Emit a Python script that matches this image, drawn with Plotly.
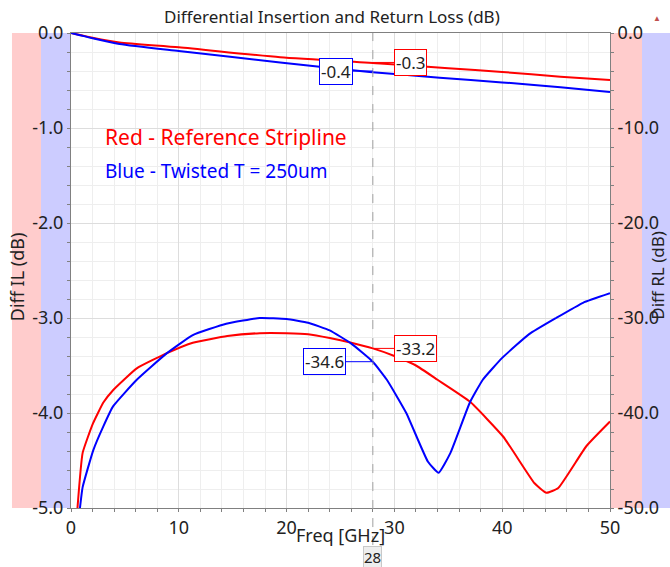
import plotly.graph_objects as go

# ---- data ----
il_red_f = [0, 2, 4.5, 10, 19.4, 28.7, 35, 40, 45.4, 50]
il_red = [0, -0.05, -0.10, -0.15, -0.256, -0.32, -0.37, -0.41, -0.46, -0.495]
il_blue_f = [0, 2, 4.5, 10, 19.4, 27.7, 34.2, 40, 45.4, 50]
il_blue = [0, -0.055, -0.115, -0.19, -0.31, -0.41, -0.47, -0.52, -0.57, -0.62]

rl_red_f = [0.6, 1.08, 2.04, 3.0, 3.9, 6.1, 8.9, 11.3, 14.5, 17.5, 20, 22, 24, 26, 28,
            30, 32, 34, 37, 40.1, 43, 44.1, 45.2, 47.8, 50]
rl_red = [-50, -44.2, -41.1, -38.9, -37.6, -35.3, -33.7, -32.6, -31.9, -31.6, -31.6, -31.7,
          -32.1, -32.6, -33.2, -34.0, -35.0, -36.5, -38.8, -42.5, -47.4, -48.4, -47.9, -43.5, -40.9]
rl_blue_f = [0.83, 1.08, 2.07, 3.0, 3.9, 6.1, 8.9, 11.3, 14.4, 17.5, 20, 22, 24, 26, 28,
             29.3, 31.1, 33.1, 34.1, 35.2, 37, 38.2, 40, 42.5, 45, 47.5, 50]
rl_blue = [-50, -47.8, -43.9, -41.4, -39.3, -36.5, -33.7, -31.8, -30.6, -30.0, -30.1, -30.5,
           -31.3, -32.7, -34.6, -36.5, -40.0, -45.1, -46.3, -44.2, -38.9, -36.5, -34.2, -31.7,
           -30.0, -28.4, -27.4]

marker_f = 28
marker_labels = {"il_red": "-0.3", "il_blue": "-0.4", "rl_red": "-33.2", "rl_blue": "-34.6"}
marker_vals = {"il_red": -0.31, "il_blue": -0.40, "rl_red": -33.2, "rl_blue": -34.6}

x_ticks = [0, 10, 20, 30, 40, 50]
il_ticks = [0, -1, -2, -3, -4, -5]
il_tick_text = ["0.0", "-1.0", "-2.0", "-3.0", "-4.0", "-5.0"]
rl_ticks = [0, -10, -20, -30, -40, -50]
rl_tick_text = ["0.0", "-10.0", "-20.0", "-30.0", "-40.0", "-50.0"]

FONT = "Noto Sans"
RED = "#ff0000"
BLUE = "#0000ff"
TXT = "#222222"

fig = go.Figure()
fig.add_trace(go.Scatter(x=il_red_f, y=il_red, mode="lines",
                         line=dict(color=RED, width=2, shape="spline", smoothing=0.6), yaxis="y"))
fig.add_trace(go.Scatter(x=il_blue_f, y=il_blue, mode="lines",
                         line=dict(color=BLUE, width=2, shape="spline", smoothing=0.6), yaxis="y"))
fig.add_trace(go.Scatter(x=rl_red_f, y=rl_red, mode="lines",
                         line=dict(color=RED, width=2, shape="spline", smoothing=0.4), yaxis="y2"))
fig.add_trace(go.Scatter(x=rl_blue_f, y=rl_blue, mode="lines",
                         line=dict(color=BLUE, width=2, shape="spline", smoothing=0.4), yaxis="y2"))

shapes = [
    dict(type="rect", xref="paper", yref="paper", x0=-0.1095, x1=-0.0557, y0=0, y1=1,
         fillcolor="#ffcccc", line=dict(width=0), layer="below"),
    dict(type="rect", xref="paper", yref="paper", x0=-0.0557, x1=0, y0=0, y1=1,
         fillcolor="#ccccff", line=dict(width=0), layer="below"),
    dict(type="rect", xref="paper", yref="paper", x0=1, x1=1.0594, y0=0, y1=1,
         fillcolor="#ffcccc", line=dict(width=0), layer="below"),
    dict(type="rect", xref="paper", yref="paper", x0=1.0594, x1=1.12, y0=0, y1=1,
         fillcolor="#ccccff", line=dict(width=0), layer="below"),
    dict(type="line", xref="x", yref="paper", x0=marker_f, x1=marker_f, y0=-0.078, y1=1,
         line=dict(color="#a0a0a0", width=1, dash="dash")),
]

ann = [
    dict(text="Differential Insertion and Return Loss (dB)", xref="paper", yref="paper",
         x=0.484, y=1.0337, xanchor="center", yanchor="middle", showarrow=False,
         font=dict(size=17, color=TXT, family=FONT)),
    dict(text="▲", xref="paper", yref="paper", x=1.087, y=1.033, xanchor="center",
         yanchor="middle", showarrow=False, font=dict(size=8, color="#c0504d", family=FONT)),
    dict(text="Diff IL (dB)", xref="paper", yref="paper", x=-0.1, y=0.486, textangle=-90,
         xanchor="center", yanchor="middle",
         showarrow=False, font=dict(size=18, color=TXT, family=FONT)),
    dict(text="Diff RL (dB)", xref="paper", yref="paper", x=1.088, y=0.49, textangle=-90,
         xanchor="center", yanchor="middle",
         showarrow=False, font=dict(size=17, color=TXT, family=FONT)),
    dict(text="Freq [GHz]", xref="paper", yref="paper", x=0.5, y=-0.057, xanchor="center",
         yanchor="middle", showarrow=False, font=dict(size=18, color=TXT, family=FONT)),
    dict(text="28", xref="x", yref="paper", x=marker_f, y=-0.103, xanchor="center",
         yanchor="middle", showarrow=False, bgcolor="#eeeeee", bordercolor="#c8c8c8",
         borderwidth=1, borderpad=0, font=dict(size=15, color=TXT, family=FONT)),
    dict(text="Red - Reference Stripline", xref="x", yref="y", x=2.97, y=-1.095,
         xanchor="left", showarrow=False, font=dict(size=21, color=RED, family=FONT)),
    dict(text="Blue - Twisted T = 250um", xref="x", yref="y", x=2.97, y=-1.453,
         xanchor="left", showarrow=False, font=dict(size=19, color=BLUE, family=FONT)),
]

for key, yref, col, ax in [("il_red", "y", RED, 38), ("il_blue", "y", BLUE, -37),
                           ("rl_red", "y2", RED, 43), ("rl_blue", "y2", BLUE, -48)]:
    ann.append(dict(text=marker_labels[key], xref="x", yref=yref, x=marker_f,
                    y=marker_vals[key], showarrow=True, ax=ax, ay=0, arrowhead=0,
                    arrowcolor=col, arrowwidth=1, standoff=0, bgcolor="white",
                    bordercolor=col, borderwidth=1, borderpad=1,
                    font=dict(size=17, color=TXT, family=FONT)))

axis_common = dict(showline=True, linecolor="#808080", linewidth=1, ticks="outside",
                   ticklen=3, tickcolor="#808080", zeroline=False, automargin=False,
                   tickfont=dict(size=18, color=TXT, family=FONT))

fig.update_layout(
    width=670, height=567,
    margin=dict(l=71, r=60, t=33, b=59, autoexpand=False),
    paper_bgcolor="white", plot_bgcolor="white",
    showlegend=False,
    font=dict(family=FONT),
    shapes=shapes, annotations=ann,
    xaxis=dict(range=[0, 50], tickvals=x_ticks, mirror=True, showgrid=True,
               gridcolor="#dddddd", minor=dict(dtick=2, showgrid=True, gridcolor="#eeeeee",
                                                ticks="outside", ticklen=3, tickcolor="#808080"),
               **axis_common),
    yaxis=dict(range=[-5, 0], tickvals=il_ticks, ticktext=il_tick_text, showgrid=True,
               gridcolor="#dddddd", minor=dict(dtick=0.2, showgrid=True, gridcolor="#eeeeee",
                                                ticks="outside", ticklen=3, tickcolor="#808080"),
               **axis_common),
    yaxis2=dict(range=[-50, 0], tickvals=rl_ticks, ticktext=rl_tick_text, overlaying="y",
                side="right", showgrid=False,
                minor=dict(dtick=2, ticks="outside", ticklen=3, tickcolor="#808080"),
                **axis_common),
)

fig.write_html("out.html", config={"displayModeBar": False},
               post_script="document.body.style.margin='0';")
